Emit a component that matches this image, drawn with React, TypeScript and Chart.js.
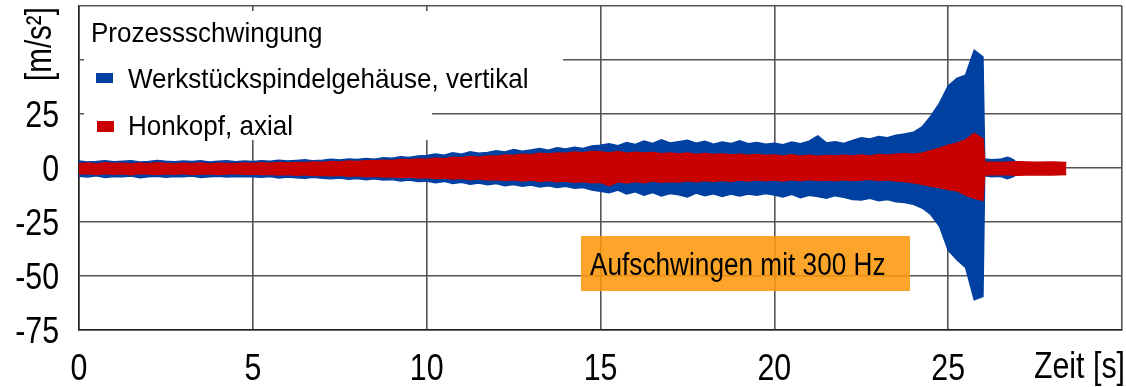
import React, { useEffect, useRef } from 'react';
import { Chart, registerables } from 'chart.js';

Chart.register(...registerables);

// ---- texts ----
const LEGEND_TITLE = 'Prozessschwingung';
const SERIES_NAMES = ['Werkstückspindelgehäuse, vertikal', 'Honkopf, axial'];
const X_TITLE = 'Zeit [s]';
const Y_TITLE = '[m/s²]';
const NOTE = 'Aufschwingen mit 300 Hz';

const BLUE = '#0040A0';
const RED = '#C80000';

// ---- sampling instants (s) of the read-off envelope, 0 ... 26 s every 0.25 s ----
const T_MAIN = Array.from({ length: 105 }, (_, i) => i * 0.25);

// envelope of the blue series (upper / lower), m/s²
const BLUE_HI = [
  3.2, 2.8, 3.0, 3.4, 2.9, 3.1, 3.3, 2.8, 3.0, 3.5, 3.1, 2.9, 3.2, 3.0, 3.4, 2.8, 3.1, 3.3, 2.9, 3.2,
  3.0, 3.4, 3.1, 3.6, 3.2, 3.5, 3.8, 3.3, 3.6, 4.0, 3.7, 4.2, 3.9, 4.4, 4.1, 4.8, 4.5, 5.2, 4.9, 5.6,
  5.8, 6.5, 5.9, 7.0, 6.4, 7.5, 6.8, 7.2, 8.0, 7.4, 8.5, 7.8, 8.3, 9.0, 8.2, 9.4, 8.8, 9.6, 9.0, 10.2,
  10.5, 11.2, 10.3, 11.8, 10.9, 12.5, 11.4, 13.0, 11.6, 12.2, 12.8, 11.5, 12.4, 11.0, 12.0, 11.3, 12.6, 11.2, 11.8, 11.0,
  11.5, 10.8, 12.0, 11.2, 12.4, 14.8, 11.6, 12.2, 11.4, 12.8,
  14.0, 13.4, 14.6, 14.0, 15.2, 15.8, 16.5, 19.0, 24.0, 30.0, 38.0, 41.5, 43.0, 54.5, 51.5,
];
const BLUE_LO = [
  -3.8, -4.2, -3.6, -4.4, -3.9, -4.1, -3.7, -4.5, -4.0, -3.8, -4.3, -3.9, -4.1, -3.7, -4.4, -4.0, -3.8, -4.2, -3.9, -4.1,
  -4.0, -4.3, -3.9, -4.6, -4.2, -4.5, -4.8, -4.3, -4.7, -5.0, -4.6, -5.2, -4.9, -5.4, -5.0, -5.6, -5.3, -6.0, -5.6, -6.3,
  -6.0, -6.8, -6.2, -7.2, -6.6, -7.5, -7.0, -7.8, -7.2, -8.2, -7.6, -8.5, -7.9, -8.8, -8.2, -9.0, -8.5, -9.4, -9.0, -10.2,
  -10.8, -11.5, -10.2, -12.0, -11.0, -12.6, -11.4, -13.0, -11.8, -12.4, -13.4, -11.6, -12.8, -11.9, -13.2, -12.1, -13.0, -12.0, -12.6, -11.8,
  -12.5, -13.4, -12.2, -13.8, -12.6, -13.2, -14.0, -12.8, -13.6, -14.6,
  -14.8, -14.0, -15.2, -14.6, -15.6, -16.0, -16.8, -18.5, -21.5, -27.0, -38.0, -42.5, -46.0, -61.0, -59.5,
];

// envelope of the red series (upper / lower), m/s²
const RED_HI = [
  2.0, 2.3, 1.9, 2.4, 2.1, 2.2, 1.8, 2.3, 2.0, 2.4, 2.1, 1.9, 2.2, 2.0, 2.3, 1.9, 2.2, 2.1, 2.0, 2.3,
  2.1, 2.4, 2.2, 2.5, 2.3, 2.6, 2.4, 2.8, 2.6, 3.0, 2.8, 3.2, 3.0, 3.4, 3.3, 3.6, 3.5, 3.9, 3.8, 4.2,
  4.0, 4.5, 4.3, 4.9, 4.7, 5.3, 5.0, 5.6, 5.4, 6.0, 5.8, 6.4, 6.1, 6.8, 6.5, 7.0, 6.8, 7.4, 7.1, 7.6,
  7.5, 7.0, 7.6, 6.8, 7.3, 6.9, 7.2, 6.6, 7.0, 6.5, 6.9, 6.3, 6.7, 6.2, 6.5, 6.0, 6.4, 5.9, 6.2, 5.8,
  6.0, 5.6, 6.1, 5.5, 5.9, 5.4, 5.8, 5.5, 5.9, 5.6,
  6.0, 5.6, 6.2, 5.9, 6.4, 6.6, 6.4, 6.8, 8.0, 9.2, 10.5, 11.5, 13.0, 16.0, 13.5,
];
const RED_LO = [
  -2.8, -2.5, -3.0, -2.6, -2.9, -2.7, -3.1, -2.6, -2.8, -3.0, -2.7, -2.9, -2.6, -3.0, -2.8, -2.7, -3.0, -2.8, -2.6, -2.9,
  -2.8, -3.0, -2.9, -3.2, -3.0, -3.3, -3.1, -3.5, -3.3, -3.6, -3.4, -3.8, -3.6, -4.0, -3.8, -4.2, -4.0, -4.4, -4.2, -4.6,
  -4.4, -4.9, -4.6, -5.1, -4.8, -5.4, -5.0, -5.6, -5.3, -5.8, -5.4, -6.0, -5.6, -6.2, -5.8, -6.4, -6.0, -6.6, -6.2, -6.8,
  -6.6, -8.2, -6.4, -6.9, -6.2, -6.8, -6.0, -6.6, -6.2, -6.5, -5.9, -6.4, -5.8, -6.3, -5.7, -6.2, -5.6, -6.0, -5.5, -5.9,
  -5.6, -6.0, -5.4, -5.9, -5.3, -5.8, -5.5, -5.9, -5.4, -5.8,
  -5.5, -5.2, -5.8, -5.4, -6.0, -6.3, -6.8, -7.5, -8.5, -9.0, -10.0, -10.5, -12.5, -14.0, -15.0,
];

// after the drop at ~26 s
const T_BLUE_TAIL = [26.05, 26.25, 26.5, 26.7, 26.8, 26.9, 26.95];
const BLUE_HI_TAIL = [4.2, 3.8, 4.0, 5.0, 4.4, 3.6, 2.6];
const BLUE_LO_TAIL = [-3.6, -4.0, -3.8, -5.0, -4.4, -3.8, -2.8];
const T_RED_TAIL = [26.05, 26.5, 27.0, 27.5, 28.0, 28.4];
const RED_HI_TAIL = [2.8, 2.6, 2.9, 2.7, 2.8, 2.6];
const RED_LO_TAIL = [-3.2, -3.0, -3.3, -3.1, -3.2, -3.0];

// axis ticks
const X_MIN = 0, X_MAX = 30, X_STEP = 5;
const Y_MIN = -75, Y_MAX = 75, Y_STEP = 25;
const Y_HIDDEN_TICKS = [50, 75];
const X_HIDDEN_TICKS = [30];

const pts = (ts: number[], vs: number[]) => ts.map((t, i) => ({ x: t, y: vs[i] }));

const SANS = '"Liberation Sans", Arial, sans-serif';

// draw text horizontally condensed (Arial-Narrow look)
function condText(
  ctx: CanvasRenderingContext2D, text: string, x: number, y: number,
  size: number, squeeze: number, align: CanvasTextAlign,
) {
  ctx.save();
  ctx.translate(x, y);
  ctx.scale(squeeze, 1);
  ctx.font = `${size}px ${SANS}`;
  ctx.textAlign = align;
  ctx.textBaseline = 'alphabetic';
  ctx.fillText(text, 0, 0);
  ctx.restore();
}

const overlay = {
  id: 'overlay',
  afterDraw(chart: any) {
    const ctx = chart.ctx as CanvasRenderingContext2D;
    const a = chart.chartArea;
    const xs = chart.scales.x;
    const ys = chart.scales.y;
    ctx.save();
    // legend background
    ctx.fillStyle = '#ffffff';
    ctx.fillRect(a.left + 5, 11, 563 - a.left - 5, 90);
    ctx.fillRect(a.left + 5, 11, 432 - a.left - 5, 129);
    ctx.fillStyle = '#000';
    condText(ctx, LEGEND_TITLE, 91, 42, 28, 0.93, 'left');
    ctx.fillStyle = BLUE;
    ctx.fillRect(96, 73, 17, 10);
    ctx.fillStyle = RED;
    ctx.fillRect(97, 121, 17, 11);
    ctx.fillStyle = '#000';
    condText(ctx, SERIES_NAMES[0], 128, 88, 28, 0.93, 'left');
    condText(ctx, SERIES_NAMES[1], 128, 135, 28, 0.93, 'left');

    // note box
    ctx.fillStyle = 'rgba(252, 152, 10, 0.87)';
    ctx.fillRect(581, 236, 329, 55);
    ctx.fillStyle = '#000';
    condText(ctx, NOTE, 590, 275, 31, 0.845, 'left');

    // tick labels
    for (const t of ys.ticks) {
      if (Y_HIDDEN_TICKS.includes(t.value)) continue;
      condText(ctx, String(t.value), a.left - 20, ys.getPixelForValue(t.value) + 13, 37, 0.82, 'right');
    }
    for (const t of xs.ticks) {
      if (X_HIDDEN_TICKS.includes(t.value)) continue;
      condText(ctx, String(t.value), xs.getPixelForValue(t.value), 380, 37, 0.82, 'center');
    }

    // axis titles
    condText(ctx, X_TITLE, 1125, 378, 37, 0.82, 'right');
    ctx.translate(41, 44);
    ctx.rotate(-Math.PI / 2);
    ctx.scale(0.82, 1);
    ctx.textAlign = 'center';
    ctx.textBaseline = 'middle';
    ctx.font = `36px ${SANS}`;
    ctx.fillText(Y_TITLE, 0, 0);
    ctx.restore();
  },
};

export default function App() {
  const ref = useRef<HTMLCanvasElement | null>(null);
  useEffect(() => {
    if (!ref.current) return;
    const common = { pointRadius: 0, borderWidth: 1.5, tension: 0 };
    const chart = new Chart(ref.current, {
      type: 'line',
      data: {
        datasets: [
          { ...common, label: SERIES_NAMES[1], data: pts([...T_MAIN, ...T_RED_TAIL], [...RED_HI, ...RED_HI_TAIL]), borderColor: RED, backgroundColor: RED, fill: '+1' },
          { ...common, label: SERIES_NAMES[1] + ' lo', data: pts([...T_MAIN, ...T_RED_TAIL], [...RED_LO, ...RED_LO_TAIL]), borderColor: RED, backgroundColor: RED, fill: false },
          { ...common, label: SERIES_NAMES[0], data: pts([...T_MAIN, ...T_BLUE_TAIL], [...BLUE_HI, ...BLUE_HI_TAIL]), borderColor: BLUE, backgroundColor: BLUE, fill: '+1' },
          { ...common, label: SERIES_NAMES[0] + ' lo', data: pts([...T_MAIN, ...T_BLUE_TAIL], [...BLUE_LO, ...BLUE_LO_TAIL]), borderColor: BLUE, backgroundColor: BLUE, fill: false },
        ],
      },
      options: {
        animation: false,
        responsive: true,
        maintainAspectRatio: false,
        layout: { padding: { top: 6, right: 4, left: 0, bottom: 0 } },
        plugins: { legend: { display: false }, tooltip: { enabled: false } },
        scales: {
          x: {
            type: 'linear',
            min: X_MIN,
            max: X_MAX,
            afterFit: (s: any) => { s.height = 57; s.paddingLeft = 0; s.paddingRight = 0; },
            border: { display: true, color: '#222', width: 1.5 },
            grid: { color: '#555', lineWidth: 1.6, drawTicks: false },
            ticks: { stepSize: X_STEP, autoSkip: false, display: false },
          },
          y: {
            min: Y_MIN,
            max: Y_MAX,
            afterFit: (s: any) => { s.width = 79; s.paddingTop = 0; s.paddingBottom = 0; },
            border: { display: true, color: '#222', width: 1.5 },
            grid: { color: '#555', lineWidth: 1.6, drawTicks: false },
            ticks: { stepSize: Y_STEP, autoSkip: false, display: false },
          },
        },
      },
      plugins: [overlay],
    });
    return () => chart.destroy();
  }, []);
  return (
    <div style={{ position: 'fixed', left: 0, top: 0, width: 1126, height: 387, background: '#fff' }}>
      <canvas ref={ref} />
    </div>
  );
}
